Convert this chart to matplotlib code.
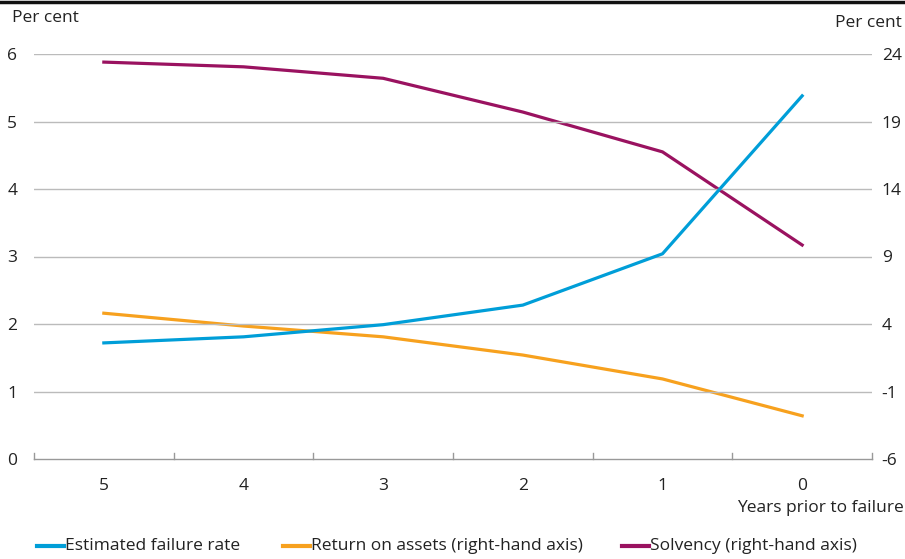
import matplotlib.pyplot as plt
from matplotlib.lines import Line2D

plt.rcParams['font.family'] = ['Open Sans', 'DejaVu Sans']

years = ['5', '4', '3', '2', '1', '0']
failure_rate = [1.72, 1.81, 1.99, 2.28, 3.04, 5.38]
return_on_assets = [4.8, 3.85, 3.05, 1.7, -0.07, -2.8]
solvency = [23.4, 23.05, 22.2, 19.7, 16.75, 9.85]

left_ticks = [0, 1, 2, 3, 4, 5, 6]
right_ticks = [-6, -1, 4, 9, 14, 19, 24]

series_labels = ['Estimated failure rate', 'Return on assets (right-hand axis)', 'Solvency (right-hand axis)']

BLUE = '#009ED8'
ORANGE = '#F7A11E'
PURPLE = '#9A1260'
GRID = '#BBBBBB'
TXT = '#222222'
FS = 12.5

W, H = 905, 559


def fx(px):
    return px / W


def fy(py):
    return 1 - py / H


def main():
    fig = plt.figure(figsize=(9.05, 5.59), dpi=100)
    ax = fig.add_axes([fx(34), fy(459), 838 / W, 405 / H])
    ax2 = ax.twinx()

    x = list(range(len(years)))
    ax.plot(x, failure_rate, color=BLUE, lw=2.3, solid_joinstyle='round', zorder=3)
    ax2.plot(x, return_on_assets, color=ORANGE, lw=2.3, solid_joinstyle='round')
    ax2.plot(x, solvency, color=PURPLE, lw=2.3, solid_joinstyle='round')

    ax.set_xlim(-0.5, len(years) - 0.5)
    ax.set_ylim(0, 6)
    ax2.set_ylim(-6, 24)
    ax.set_yticks(left_ticks)
    ax2.set_yticks(right_ticks)
    ax2.set_yticklabels([str(t) for t in right_ticks])

    # horizontal grid
    for t in left_ticks[1:]:
        ax.axhline(t, color=GRID, lw=1.0, zorder=0)
    ax.set_zorder(ax2.get_zorder() + 1)
    ax.patch.set_visible(False)

    for a in (ax, ax2):
        for s in a.spines.values():
            s.set_visible(False)
        a.tick_params(axis='y', length=0, labelsize=FS, colors=TXT)
    ax.spines['bottom'].set_visible(True)
    ax.spines['bottom'].set_color('#999999')
    ax.spines['bottom'].set_linewidth(1.0)
    ax.tick_params(axis='y', pad=12)
    ax2.tick_params(axis='y', pad=7)

    # category labels centred, ticks at the boundaries
    ax.set_xticks(x)
    ax.set_xticklabels(years)
    ax.tick_params(axis='x', length=0, labelsize=FS, colors=TXT, pad=14)
    for b in range(len(years) + 1):
        ax.plot([b - 0.5, b - 0.5], [0, 0.09], color='#999999', lw=1.0, clip_on=False)

    fig.text(fx(12), fy(18), 'Per cent', fontsize=FS, va='center', color=TXT)
    fig.text(fx(902), fy(23), 'Per cent', fontsize=FS, va='center', ha='right', color=TXT)
    fig.text(fx(904), fy(508), 'Years prior to failure', fontsize=FS, va='center', ha='right', color=TXT)

    # black rule at the top
    fig.add_artist(Line2D([0, 1], [fy(2), fy(2)], color='#111111', lw=2.5))

    # legend, drawn by hand so the items sit where the reference has them
    for xs, col, lab in zip([37, 283, 622], [BLUE, ORANGE, PURPLE], series_labels):
        fig.add_artist(Line2D([fx(xs), fx(xs + 27)], [fy(546), fy(546)], color=col, lw=3))
        fig.text(fx(xs + 28), fy(546), lab, fontsize=FS, va='center', color=TXT)

    fig.savefig('out.png', dpi=100)


if __name__ == '__main__':
    main()
